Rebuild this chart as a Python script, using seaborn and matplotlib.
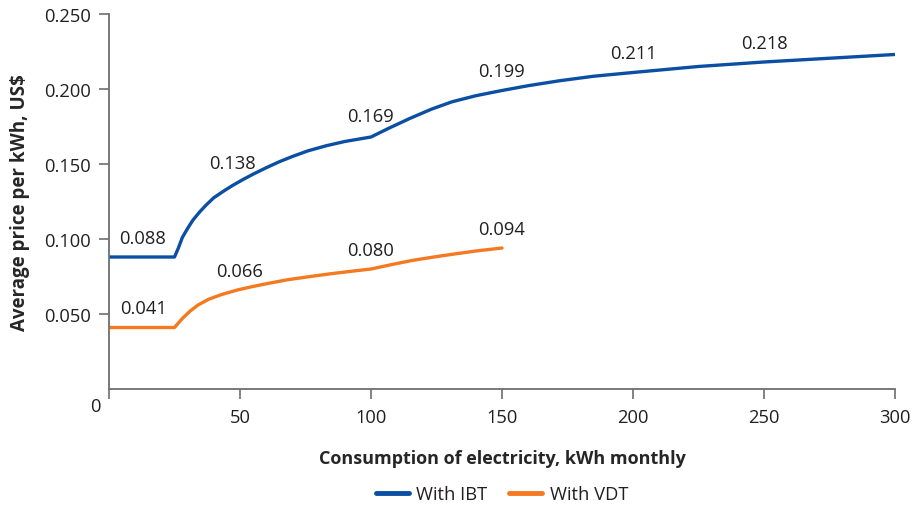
import matplotlib
matplotlib.use("Agg")
import matplotlib.pyplot as plt
import seaborn as sns
import pandas as pd

# Lecturas de la curva (consumo mensual en kWh, precio medio en US$)
ibt_kwh = [0, 25, 26.5, 28, 30, 32, 34.5, 37, 40, 44, 47, 51, 55, 60, 65, 70, 76, 83, 90, 96, 100,
           107, 115, 123, 131, 140, 150, 160, 172, 185, 200, 225, 250, 275, 300]
ibt_price = [0.088, 0.088, 0.094, 0.101, 0.107, 0.1125, 0.1178, 0.1225, 0.1275, 0.1322, 0.1355, 0.1395,
             0.1432, 0.1475, 0.1515, 0.155, 0.1588, 0.1622, 0.165, 0.1668, 0.168,
             0.174, 0.1805, 0.1865, 0.1915, 0.1955, 0.199, 0.2022, 0.2055, 0.2085, 0.211,
             0.215, 0.218, 0.2205, 0.223]

vdt_kwh = [0, 25, 28, 31, 34, 38, 43, 49, 54, 59, 68, 76, 84, 92, 100, 108, 116, 124, 131, 140, 150]
vdt_price = [0.041, 0.041, 0.047, 0.052, 0.056, 0.0598, 0.063, 0.066, 0.068, 0.0698, 0.0728, 0.0748,
             0.0767, 0.0784, 0.080, 0.083, 0.0858, 0.088, 0.0898, 0.092, 0.094]

# Etiquetas de valores
ibt_label_kwh = [13, 47, 100, 150, 200, 250]
ibt_label_val = [0.088, 0.138, 0.169, 0.199, 0.211, 0.218]
vdt_label_kwh = [13, 50, 100, 150]
vdt_label_val = [0.041, 0.066, 0.080, 0.094]

x_ticks = [0, 50, 100, 150, 200, 250, 300]
y_ticks = [0.05, 0.10, 0.15, 0.20, 0.25]

colors = {"With IBT": "#0b4fa3", "With VDT": "#f47920"}
text_color = "#231f20"
axis_color = "#6d6e71"

df = pd.concat([
    pd.DataFrame({"kwh": ibt_kwh, "price": ibt_price, "serie": "With IBT"}),
    pd.DataFrame({"kwh": vdt_kwh, "price": vdt_price, "serie": "With VDT"}),
])

sns.set_style("white")
plt.rcParams["font.family"] = ["Open Sans", "DejaVu Sans"]
plt.rcParams["text.color"] = text_color

fig = plt.figure(figsize=(9.21, 5.06), dpi=100)
ax = fig.add_axes([0.1183, 0.2292, 0.8535, 0.7412])

sns.lineplot(data=df, x="kwh", y="price", hue="serie", palette=colors,
             linewidth=2.4, ax=ax, legend=True)

for xv, v in zip(ibt_label_kwh, ibt_label_val):
    ax.annotate(f"{v:.3f}", (xv, v), xytext=(0, 14), textcoords="offset points",
                ha="center", va="center", fontsize=13.2, color=text_color)
for xv, v in zip(vdt_label_kwh, vdt_label_val):
    ax.annotate(f"{v:.3f}", (xv, v), xytext=(0, 14), textcoords="offset points",
                ha="center", va="center", fontsize=13.2, color=text_color)

ax.set_xlim(0, 300)
ax.set_ylim(0, 0.25)
ax.set_xticks(x_ticks)
ax.set_xticklabels([""] + [str(t) for t in x_ticks[1:]])
ax.set_yticks(y_ticks)
ax.set_yticklabels([f"{t:.3f}" for t in y_ticks])
ax.tick_params(axis="both", direction="out", length=7, width=1.2, color=axis_color,
               labelsize=13.2, labelcolor=text_color, left=True, bottom=True)
ax.tick_params(axis="x", pad=7)
ax.tick_params(axis="y", pad=6)
ax.annotate("0", (0, 0), xycoords="axes fraction", xytext=(-10, -12),
            textcoords="offset points", ha="center", va="center",
            fontsize=13.2, color=text_color)

sns.despine(ax=ax)
for s in ["left", "bottom"]:
    ax.spines[s].set_color(axis_color)
    ax.spines[s].set_linewidth(1.3)

ax.set_xlabel("Consumption of electricity, kWh monthly", fontsize=13, fontweight="bold",
              labelpad=16)
ax.set_ylabel("Average price per kWh, US$", fontsize=13.5, fontweight="bold", labelpad=10)

handles, labels = ax.get_legend_handles_labels()
for h in handles:
    h.set_linewidth(3.5)
ax.legend(handles, labels, loc="center", bbox_to_anchor=(0.5, -0.28), ncol=2,
          frameon=False, fontsize=13.2, handlelength=1.8, columnspacing=1.2,
          handletextpad=0.4)

fig.savefig("out.png", dpi=100)
